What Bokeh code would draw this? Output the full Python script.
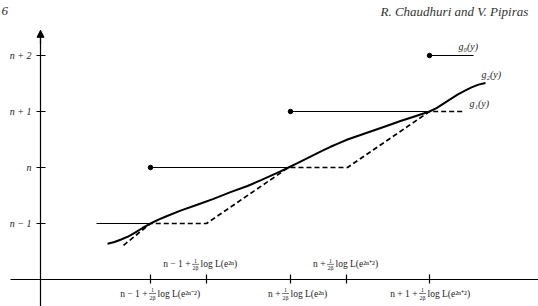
from bokeh.plotting import figure
from bokeh.models import LinearAxis, FixedTicker, Range1d, Arrow, NormalHead, ColumnDataSource
from bokeh.embed import file_html
from bokeh.resources import INLINE

# ---------------- data ----------------
y_levels = [-1, 0, 1, 2]
y_labels = ["n − 1", "n", "n + 1", "n + 2"]

tick_x = [110, 166, 250, 306, 389]

lab_left = ["n − 1 +", "n − 1 +", "n +", "n +", "n + 1 +"]
lab_num = ["1", "1", "1", "1", "1"]
lab_den = ["2β", "2β", "2β", "2β", "2β"]
lab_right = ["log L(e²ⁿ⁻²)", "log L(e²ⁿ)", "log L(e²ⁿ)", "log L(e²ⁿ⁺²)", "log L(e²ⁿ⁺²)"]

# g0: step function
g0_x0 = [56, 110, 250, 389]
g0_x1 = [110, 248, 389, 433]
g0_y = [-1, 0, 1, 2]
g0_dot_x = [110, 250, 389]
g0_dot_y = [0, 1, 2]

# g1: dashed
g1_x = [83, 110, 166, 248, 307, 389, 423]
g1_y = [-1.39, -1.0, -1.0, 0.0, 0.0, 1.0, 1.0]

# g2: smooth solid curve
g2_x = [67, 74, 80, 88, 95, 102, 110, 118, 126, 140, 156, 173, 190, 207, 220, 230, 240, 248,
        256, 264, 273, 282, 290, 298, 307, 320, 333, 346, 360, 374, 389, 396, 403, 410, 417,
        424, 431, 438, 445]
g2_y = [-1.36, -1.33, -1.29, -1.23, -1.16, -1.08, -1.0, -0.93, -0.87, -0.77, -0.67, -0.56,
        -0.44, -0.33, -0.23, -0.15, -0.07, 0.0, 0.07, 0.14, 0.22, 0.30, 0.37, 0.43, 0.50,
        0.58, 0.66, 0.74, 0.83, 0.91, 1.0, 1.06, 1.14, 1.22, 1.30, 1.37, 1.43, 1.48, 1.51]

curve_names = ["g₀(y)", "g₂(y)", "g₁(y)"]

header_texts = ["R. Chaudhuri and V. Pipiras", "6"]

# ---------------- layout constants ----------------
lab_x = [112, 155, 245, 290, 382]
lab_y = [-2.25, -1.73, -2.25, -1.73, -2.25]
name_x = [418, 441, 429]
name_y = [2.16, 1.66, 1.14]
header_x = [340, -39]
header_y = [2.79, 2.79]

FONT = "Liberation Serif"
TXT = "#222222"

p = figure(width=538, height=306, x_range=Range1d(-40, 498), y_range=Range1d(-2.482, 2.982),
           output_backend="svg", toolbar_location=None, min_border=0,
           x_axis_type=None, y_axis_type=None)
p.outline_line_color = None
p.background_fill_color = "white"

# axes
yaxis = LinearAxis(fixed_location=0, ticker=FixedTicker(ticks=y_levels),
                   major_label_overrides={v: s for v, s in zip(y_levels, y_labels)},
                   bounds=(-2.482, 2.40), axis_line_width=1.2, axis_line_color="black",
                   major_tick_in=5, major_tick_out=4, major_tick_line_width=1.2,
                   minor_tick_line_color=None, major_label_standoff=5,
                   major_label_text_font=FONT, major_label_text_font_size="10px",
                   major_label_text_font_style="italic", major_label_text_color=TXT)
p.add_layout(yaxis, "left")

xaxis = LinearAxis(fixed_location=-2, ticker=FixedTicker(ticks=tick_x),
                   bounds=(-30, 498), axis_line_width=1.2, axis_line_color="black",
                   major_tick_in=5, major_tick_out=4, major_tick_line_width=1.2,
                   minor_tick_line_color=None, major_label_text_color=None)
p.add_layout(xaxis, "below")

p.add_layout(Arrow(end=NormalHead(size=7, fill_color="black", line_color="black"),
                   x_start=0, y_start=2.2, x_end=0, y_end=2.45, line_width=1.2))

# g0
p.segment(x0=g0_x0, y0=g0_y, x1=g0_x1, y1=g0_y, line_color="black", line_width=1.2)
p.scatter(g0_dot_x, g0_dot_y, size=4.5, color="black")

# g1 dashed
p.line(g1_x, g1_y, line_color="black", line_width=1.7, line_dash="5 3")

# g2 solid
p.line(g2_x, g2_y, line_color="black", line_width=2, line_join="round")

# curve names
p.text(x=name_x, y=name_y, text=curve_names, text_font=FONT, text_font_size="10px",
       text_font_style="italic", text_color=TXT, text_baseline="middle", text_align="left")

# x labels
src = ColumnDataSource(dict(x=lab_x, y=lab_y, l=lab_left, n=lab_num, d=lab_den, r=lab_right))
p.text(x="x", y="y", text="l", source=src, x_offset=-5, text_align="right", text_baseline="middle",
       text_font=FONT, text_font_size="9.5px", text_color=TXT)
p.text(x="x", y="y", text="n", source=src, y_offset=-3.5, text_align="center", text_baseline="middle",
       text_font=FONT, text_font_size="6px", text_color=TXT)
p.text(x="x", y="y", text="d", source=src, y_offset=4, text_align="center", text_baseline="middle",
       text_font=FONT, text_font_size="6px", text_color=TXT)
p.segment(x0=[v - 3.5 for v in lab_x], y0=lab_y, x1=[v + 3.5 for v in lab_x], y1=lab_y,
          line_color=TXT, line_width=0.6)
p.text(x="x", y="y", text="r", source=src, x_offset=5, text_align="left", text_baseline="middle",
       text_font=FONT, text_font_size="9.5px", text_color=TXT)

# page header
p.text(x=header_x, y=header_y, text=header_texts,
       text_font=FONT, text_font_size="13px", text_font_style="italic", text_color="#333333",
       text_baseline="alphabetic", text_align="left")

open("out.html", "w").write(file_html(p, INLINE))
